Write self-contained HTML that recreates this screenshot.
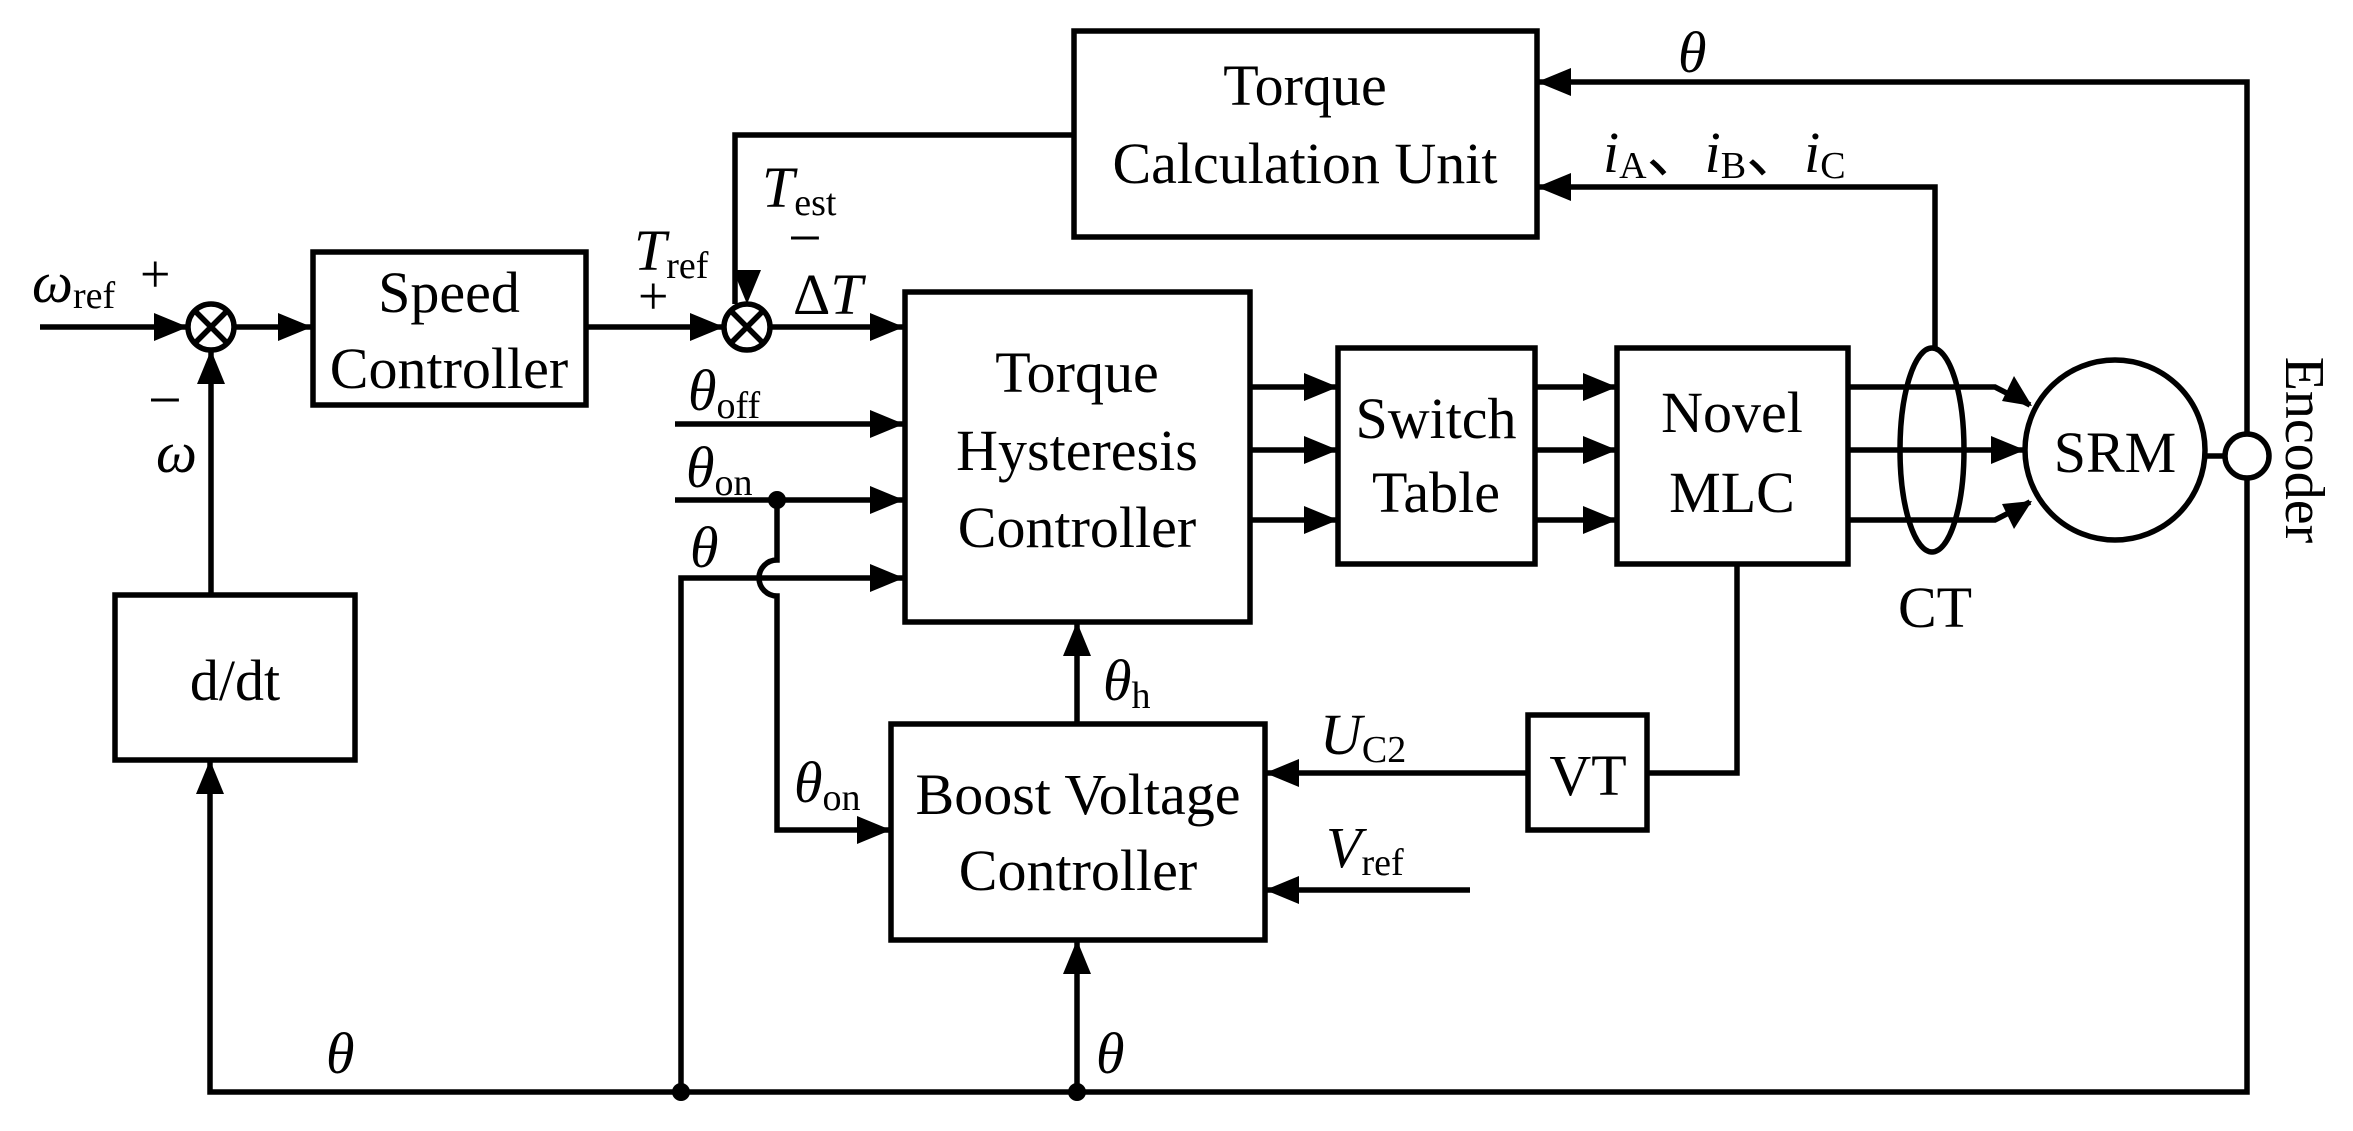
<!DOCTYPE html>
<html><head><meta charset="utf-8"><style>html,body{margin:0;padding:0;background:#fff}svg{display:block}</style></head><body>
<svg width="2353" height="1131" viewBox="0 0 2353 1131" xmlns="http://www.w3.org/2000/svg" font-family="'Liberation Serif', serif" font-size="58">
<g stroke="#000" stroke-width="5.5" fill="none">
<rect x="1074" y="31" width="463" height="206"/>
<rect x="313" y="252" width="273" height="153"/>
<rect x="905" y="292" width="345" height="330"/>
<rect x="1338" y="348" width="197" height="216"/>
<rect x="1617" y="348" width="231" height="216"/>
<rect x="115" y="595" width="240" height="165"/>
<rect x="891" y="724" width="374" height="216"/>
<rect x="1528" y="715" width="119" height="115"/>
<circle cx="211" cy="327" r="23"/>
<circle cx="747" cy="327" r="23"/>
<circle cx="2115" cy="450" r="90"/>
<circle cx="2247" cy="456" r="22"/>
<ellipse cx="1932" cy="450" rx="32" ry="102"/>
<path d="M195,311 L227,343 M227,311 L195,343"/>
<path d="M731,311 L763,343 M763,311 L731,343"/>
<path d="M40,327 H188"/>
<path d="M234,327 H312"/>
<path d="M586,327 H724"/>
<path d="M1074,135 H735 V304"/>
<path d="M770,327 H904"/>
<path d="M675,424 H904"/>
<path d="M675,500 H904"/>
<path d="M681,1092 V578 H904"/>
<path d="M777,500 V560 A18,18 0 0 0 777,596 V830 H891"/>
<path d="M1250,387 H1338 M1250,450 H1338 M1250,520 H1338"/>
<path d="M1535,387 H1617 M1535,450 H1617 M1535,520 H1617"/>
<path d="M1848,387 H1995 L2030,405"/>
<path d="M1848,450 H2025"/>
<path d="M1848,520 H1995 L2030,502"/>
<path d="M1935,348 V187 H1537"/>
<path d="M2247,434 V82 H1537"/>
<path d="M2205,456 H2225"/>
<path d="M2247,478 V1092 H210 V760"/>
<path d="M211,595 V350"/>
<path d="M1737,564 V773 H1647"/>
<path d="M1528,773 H1265"/>
<path d="M1470,890 H1265"/>
<path d="M1077,724 V622"/>
<path d="M1077,1092 V940"/>
</g>
<g fill="#000">
<path d="M188,327 l-34,-14 v28 z"/>
<path d="M312,327 l-34,-14 v28 z"/>
<path d="M724,327 l-34,-14 v28 z"/>
<path d="M747,304 l-14,-34 h28 z"/>
<path d="M904,327 l-34,-14 v28 z"/>
<path d="M904,424 l-34,-14 v28 z"/>
<path d="M904,500 l-34,-14 v28 z"/>
<path d="M904,578 l-34,-14 v28 z"/>
<path d="M891,830 l-34,-14 v28 z"/>
<path d="M1338,387 l-34,-14 v28 z"/>
<path d="M1338,450 l-34,-14 v28 z"/>
<path d="M1338,520 l-34,-14 v28 z"/>
<path d="M1617,387 l-34,-14 v28 z"/>
<path d="M1617,450 l-34,-14 v28 z"/>
<path d="M1617,520 l-34,-14 v28 z"/>
<path d="M2025,450 l-34,-14 v28 z"/>
<path d="M2032,406 l-18,-30 l-12,25 z"/>
<path d="M2032,501 l-30,3 l12,25 z"/>
<path d="M1537,82 l34,-14 v28 z"/>
<path d="M1537,187 l34,-14 v28 z"/>
<path d="M1265,773 l34,-14 v28 z"/>
<path d="M1265,890 l34,-14 v28 z"/>
<path d="M1077,622 l-14,34 h28 z"/>
<path d="M1077,940 l-14,34 h28 z"/>
<path d="M210,760 l-14,34 h28 z"/>
<path d="M211,350 l-14,34 h28 z"/>
<circle cx="777" cy="500" r="9"/>
<circle cx="681" cy="1092" r="9"/>
<circle cx="1077" cy="1092" r="9"/>
</g>
<g fill="#000" text-anchor="middle">
<text x="1305" y="105">Torque</text>
<text x="1305" y="183">Calculation Unit</text>
<text x="449" y="312">Speed</text>
<text x="449" y="388">Controller</text>
<text x="1077" y="392">Torque</text>
<text x="1077" y="470">Hysteresis</text>
<text x="1077" y="547">Controller</text>
<text x="1436" y="438">Switch</text>
<text x="1436" y="512">Table</text>
<text x="1732" y="432">Novel</text>
<text x="1732" y="512">MLC</text>
<text x="2115" y="472">SRM</text>
<text x="235" y="700">d/dt</text>
<text x="1078" y="814">Boost Voltage</text>
<text x="1078" y="890">Controller</text>
<text x="1588" y="795">VT</text>
<text x="1935" y="627">CT</text>
<text transform="translate(2286,450) rotate(90)" font-size="56">Encoder</text>
</g>
<g fill="#000" font-size="58">
<text x="32" y="302"><tspan font-style="italic">ω</tspan><tspan font-size="38" dy="6">ref</tspan></text>
<text x="140" y="292" font-size="54">+</text>
<text x="148" y="420" font-size="60">−</text>
<text x="156" y="472" font-style="italic">ω</text>
<text x="326" y="1073" font-style="italic">θ</text>
<text x="1096" y="1073" font-style="italic">θ</text>
<text x="1678" y="72" font-style="italic">θ</text>
<text x="1603" y="172"><tspan font-style="italic">i</tspan><tspan font-size="38" dy="6">A</tspan><tspan dy="-6">、</tspan><tspan font-style="italic">i</tspan><tspan font-size="38" dy="6">B</tspan><tspan dy="-6">、</tspan><tspan font-style="italic">i</tspan><tspan font-size="38" dy="6">C</tspan></text>
<text x="634" y="270"><tspan font-style="italic">T</tspan><tspan font-size="38" dy="8">ref</tspan></text>
<text x="638" y="314" font-size="54">+</text>
<text x="762" y="207"><tspan font-style="italic">T</tspan><tspan font-size="38" dy="8">est</tspan></text>
<text x="788" y="258" font-size="60">−</text>
<text x="793" y="314">Δ<tspan font-style="italic">T</tspan></text>
<text x="688" y="410"><tspan font-style="italic">θ</tspan><tspan font-size="38" dy="8">off</tspan></text>
<text x="686" y="487"><tspan font-style="italic">θ</tspan><tspan font-size="38" dy="8">on</tspan></text>
<text x="690" y="567" font-style="italic">θ</text>
<text x="794" y="802"><tspan font-style="italic">θ</tspan><tspan font-size="38" dy="8">on</tspan></text>
<text x="1103" y="700"><tspan font-style="italic">θ</tspan><tspan font-size="38" dy="8">h</tspan></text>
<text x="1320" y="754"><tspan font-style="italic">U</tspan><tspan font-size="38" dy="8">C2</tspan></text>
<text x="1326" y="867"><tspan font-style="italic">V</tspan><tspan font-size="38" dy="8">ref</tspan></text>
</g>
</svg>
</body></html>
